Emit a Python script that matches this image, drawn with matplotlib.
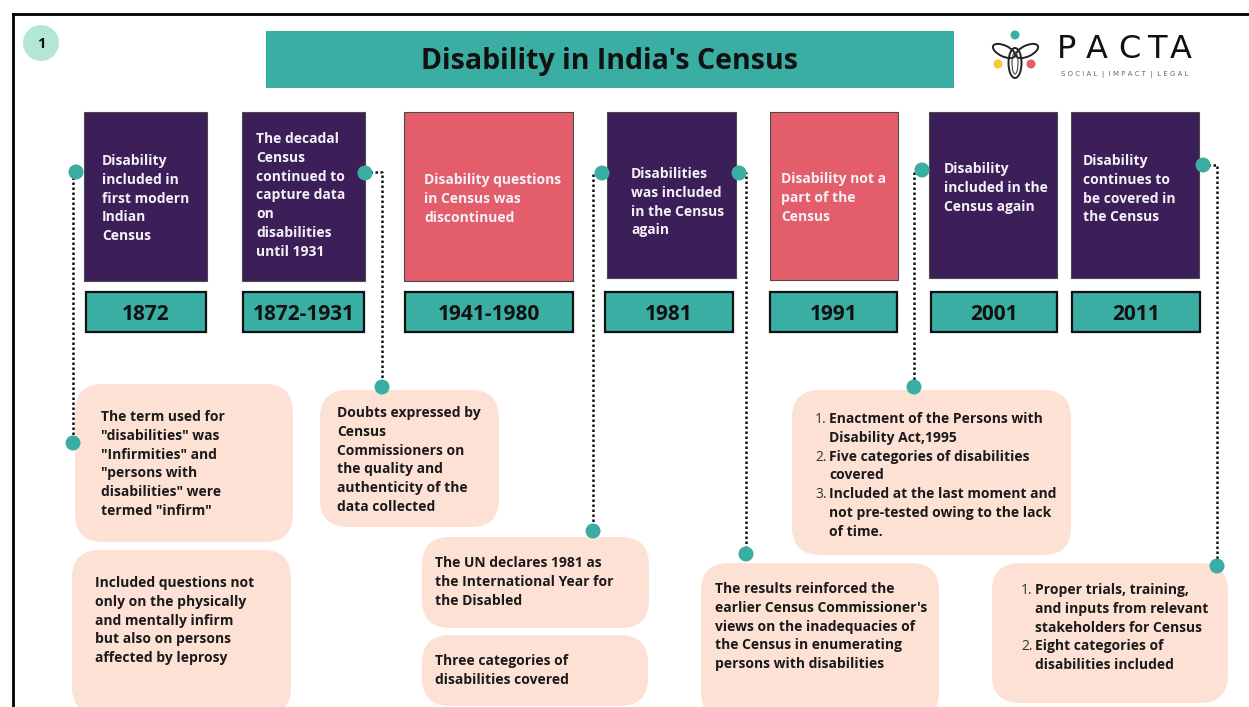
import matplotlib.pyplot as plt
from matplotlib.patches import Rectangle, FancyBboxPatch, Circle, Ellipse

plt.rcParams['font.family'] = ['Open Sans', 'DejaVu Sans']

# ---- data ----
title = "Disability in India's Census"
years = ["1872", "1872-1931", "1941-1980", "1981", "1991", "2001", "2011"]
included = [True, True, False, True, False, True, True]
events = [
    ["Disability", "included in", "first modern", "Indian", "Census"],
    ["The decadal", "Census", "continued to", "capture data", "on", "disabilities", "until 1931"],
    ["Disability questions", "in Census was", "discontinued"],
    ["Disabilities", "was included", "in the Census", "again"],
    ["Disability not a", "part of the", "Census"],
    ["Disability", "included in the", "Census again"],
    ["Disability", "continues to", "be covered in", "the Census"],
]
note_1872a = ["The term used for", "\"disabilities\" was", "\"Infirmities\" and",
              "\"persons with", "disabilities\" were", "termed \"infirm\""]
note_1872b = ["Included questions not", "only on the physically", "and mentally infirm",
              "but also on persons", "affected by leprosy"]
note_1931 = ["Doubts expressed by", "Census", "Commissioners on", "the quality and",
             "authenticity of the", "data collected"]
note_1981a = ["The UN declares 1981 as", "the International Year for", "the Disabled"]
note_1981b = ["Three categories of", "disabilities covered"]
note_1991 = ["The results reinforced the", "earlier Census Commissioner's",
             "views on the inadequacies of", "the Census in enumerating",
             "persons with disabilities"]
note_2001 = [["Enactment of the Persons with", "Disability Act,1995"],
             ["Five categories of disabilities", "covered"],
             ["Included at the last moment and", "not pre-tested owing to the lack", "of time."]]
note_2011 = [["Proper trials, training,", "and inputs from relevant", "stakeholders for Census"],
             ["Eight categories of", "disabilities included"]]

# ---- layout (pixels) ----
box_x = [84, 242, 404, 607, 770, 929, 1071]
box_w = [123, 123, 169, 129, 128, 128, 128]
box_bot = [281, 281, 281, 278, 280, 278, 278]
txt_x = [102, 256, 424, 631, 781, 944, 1083]
txt_y = [160, 138, 179, 173, 178, 168, 160]
yr_x = [86, 243, 405, 605, 770, 931, 1072]
yr_w = [120, 121, 168, 128, 127, 126, 128]

TEAL = '#3aaea2'
PURPLE = '#3c1f58'
RED = '#e35d6b'
PINK = '#fde1d4'
LS = 18.8

fig = plt.figure(figsize=(12.49, 7.07), dpi=100)
ax = fig.add_axes([0, 0, 1, 1])
ax.set_xlim(0, 1249)
ax.set_ylim(707, 0)
ax.axis('off')


def lines_at(x, y0, lines, size=10, color='#1a1a1a', weight='bold'):
    for i, s in enumerate(lines):
        ax.text(x, y0 + i * LS + size * 0.5, s, fontsize=size, color=color,
                weight=weight, ha='left', va='baseline', zorder=5)


def pink(x0, y0, x1, y1):
    ax.add_patch(FancyBboxPatch((x0, y0), x1 - x0, y1 - y0,
                                boxstyle='round,pad=0,rounding_size=28',
                                fc=PINK, ec='none', zorder=2))


# frame
ax.plot([13, 1249], [14, 14], color='black', lw=2, zorder=1)
ax.plot([13, 13], [14, 707], color='black', lw=2, zorder=1)

# page number
ax.add_patch(Circle((41, 43), 18, fc='#b4e6d6', ec='none'))
ax.text(41, 43 + 5, "1", fontsize=10.5, weight='bold', ha='center', va='baseline', color='#111')

# title bar
ax.add_patch(Rectangle((266, 31), 688, 57, fc=TEAL, ec='none'))
ax.text(610, 59 + 10, title, fontsize=20.5, weight='bold', ha='center', va='baseline', color='#111')

# logo
ax.add_patch(Circle((1015, 35), 4.5, fc='#3aaea2', ec='none'))
ax.add_patch(Circle((998, 64), 4.5, fc='#f5c842', ec='none'))
ax.add_patch(Circle((1031, 64), 4.5, fc='#e35d6b', ec='none'))
ax.add_patch(Ellipse((1004, 51), 24, 11, angle=25, fc='none', ec='#222', lw=1.4))
ax.add_patch(Ellipse((1027, 51), 24, 11, angle=-25, fc='none', ec='#222', lw=1.4))
ax.add_patch(Ellipse((1015, 63), 13, 30, fc='none', ec='#222', lw=1.4))
ax.add_patch(Ellipse((1015, 63), 6, 22, fc='none', ec='#444', lw=0.8))
for ch, cx in zip("PACTA", [1067, 1097, 1129, 1157, 1181]):
    ax.text(cx, 58, ch, fontsize=23, ha='center', va='baseline', color='#111',
            family='DejaVu Sans', weight='medium')
ax.text(1125, 76, "S O C I A L  |  I M P A C T  |  L E G A L", fontsize=5,
        ha='center', va='baseline', color='#666', family='DejaVu Sans')

# top boxes and year labels
for i in range(len(years)):
    col = PURPLE if included[i] else RED
    ax.add_patch(Rectangle((box_x[i], 112), box_w[i], box_bot[i] - 112,
                           fc=col, ec='#4a4a4a', lw=0.8, zorder=2))
    lines_at(txt_x[i], txt_y[i], events[i], size=10, color='#f4f1f7')
    ax.add_patch(Rectangle((yr_x[i], 292), yr_w[i], 40, fc=TEAL, ec='#111',
                           lw=1.6, zorder=2))
    ax.text(yr_x[i] + yr_w[i] / 2, 312 + 7.5, years[i], fontsize=15, weight='bold',
            ha='center', va='baseline', color='#111', zorder=5)

# note boxes
pink(75, 384, 293, 542)
lines_at(101, 416, note_1872a)
pink(72, 550, 291, 715)
lines_at(95, 582, note_1872b)
pink(320, 390, 499, 527)
lines_at(337, 412, note_1931)
pink(422, 537, 649, 628)
lines_at(435, 562, note_1981a)
pink(422, 635, 648, 706)
lines_at(435, 660, note_1981b)
pink(701, 563, 939, 720)
lines_at(715, 588, note_1991)
pink(792, 390, 1071, 555)
pink(992, 563, 1228, 703)

for items, nx, tx, ty in [(note_2001, 815, 829, 418), (note_2011, 1021, 1035, 589)]:
    k = 0
    for j, item in enumerate(items):
        ax.text(nx, ty + k * LS + 5, f"{j + 1}.", fontsize=10, color='#333',
                ha='left', va='baseline', zorder=5)
        lines_at(tx, ty + k * LS, item)
        k += len(item)

# connectors
connectors = [
    ((76, 172), [(73, 172), (73, 443)]),
    ((365, 173), [(365, 172), (382, 172), (382, 387)]),
    ((602, 173), [(602, 173), (593, 173), (593, 531)]),
    ((739, 173), [(739, 173), (746, 173), (746, 554)]),
    ((922, 170), [(922, 170), (914, 170), (914, 387)]),
    ((1203, 165), [(1203, 165), (1217, 165), (1217, 566)]),
]
for top, path in connectors:
    xs, ys = zip(*path)
    ax.plot(xs, ys, color='#111', lw=1.8, ls=(0, (1, 1)), zorder=1)
    ax.add_patch(Circle(top, 7.5, fc=TEAL, ec='none', zorder=6))
    ax.add_patch(Circle(path[-1], 7.5, fc=TEAL, ec='none', zorder=6))

fig.savefig('out.png', dpi=100)
